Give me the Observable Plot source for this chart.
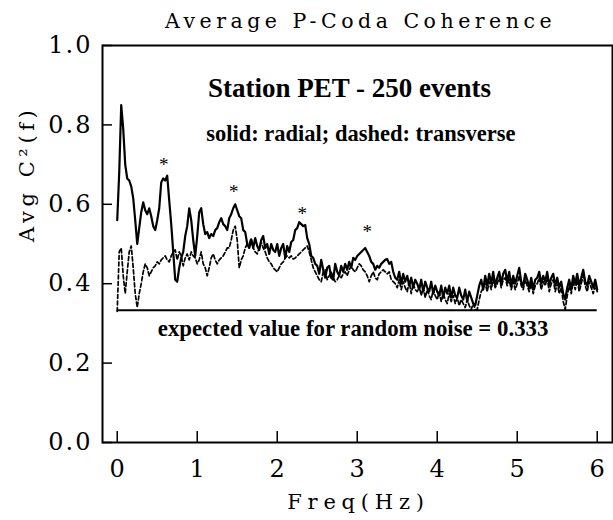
<!DOCTYPE html>
<html><head><meta charset="utf-8">
<script src="https://cdn.jsdelivr.net/npm/d3@7"></script>
<script src="https://cdn.jsdelivr.net/npm/@observablehq/plot@0.6"></script>
<style>
body{margin:0;background:#fff;} svg{display:block;}
</style>
</head><body><div id="chart"></div>
<script>
// Radial (solid) average coherence, sampled every 0.025 Hz from 0 to 6 Hz
const radial = [
  0.56, 0.68, 0.85, 0.79, 0.70, 0.665, 0.66, 0.645, 0.615, 0.56,
  0.50, 0.54, 0.58, 0.605, 0.585, 0.575, 0.59, 0.57, 0.545, 0.535,
  0.56, 0.59, 0.655, 0.665, 0.66, 0.672, 0.61, 0.55, 0.48, 0.41,
  0.405, 0.44, 0.465, 0.48, 0.52, 0.545, 0.59, 0.56, 0.51, 0.47,
  0.52, 0.58, 0.59, 0.55, 0.525, 0.53, 0.515, 0.525, 0.52, 0.535,
  0.54, 0.555, 0.565, 0.55, 0.545, 0.535, 0.565, 0.575, 0.59, 0.60,
  0.585, 0.57, 0.565, 0.535, 0.53, 0.50, 0.49, 0.51, 0.49, 0.515,
  0.495, 0.485, 0.51, 0.52, 0.49, 0.50, 0.475, 0.50, 0.485, 0.48,
  0.50, 0.47, 0.49, 0.50, 0.465, 0.495, 0.48, 0.505, 0.51, 0.535,
  0.54, 0.555, 0.55, 0.545, 0.548, 0.515, 0.50, 0.47, 0.465, 0.45,
  0.445, 0.425, 0.46, 0.435, 0.415, 0.44, 0.445, 0.415, 0.41, 0.45,
  0.43, 0.42, 0.445, 0.43, 0.45, 0.435, 0.455, 0.44, 0.465, 0.46,
  0.47, 0.475, 0.48, 0.485, 0.49, 0.48, 0.47, 0.455, 0.45, 0.435,
  0.445, 0.44, 0.45, 0.455, 0.46, 0.462, 0.45, 0.455, 0.43, 0.415,
  0.41, 0.43, 0.40, 0.425, 0.405, 0.42, 0.395, 0.415, 0.39, 0.41,
  0.40, 0.385, 0.41, 0.38, 0.405, 0.39, 0.38, 0.405, 0.375, 0.395,
  0.38, 0.37, 0.395, 0.365, 0.39, 0.375, 0.395, 0.365, 0.39, 0.37,
  0.365, 0.39, 0.37, 0.36, 0.385, 0.355, 0.38, 0.365, 0.35, 0.345,
  0.37, 0.395, 0.41, 0.385, 0.42, 0.395, 0.425, 0.40, 0.43, 0.395,
  0.415, 0.43, 0.40, 0.425, 0.435, 0.405, 0.43, 0.395, 0.42, 0.40,
  0.42, 0.44, 0.405, 0.395, 0.425, 0.41, 0.39, 0.415, 0.385, 0.41,
  0.415, 0.43, 0.40, 0.42, 0.405, 0.43, 0.395, 0.415, 0.425, 0.395,
  0.415, 0.39, 0.405, 0.375, 0.36, 0.39, 0.41, 0.385, 0.42, 0.40,
  0.425, 0.395, 0.415, 0.435, 0.405, 0.395, 0.42, 0.405, 0.39, 0.41,
  0.385
];
// Transverse (dashed)
const transverse = [
  0.33, 0.48, 0.49, 0.42, 0.375, 0.43, 0.48, 0.495, 0.44, 0.375,
  0.34, 0.375, 0.40, 0.43, 0.45, 0.44, 0.42, 0.43, 0.44, 0.445,
  0.455, 0.45, 0.46, 0.465, 0.47, 0.46, 0.455, 0.47, 0.48, 0.485,
  0.46, 0.48, 0.47, 0.445, 0.465, 0.475, 0.46, 0.48, 0.47, 0.465,
  0.45, 0.46, 0.48, 0.45, 0.44, 0.42, 0.44, 0.465, 0.475, 0.46,
  0.45, 0.46, 0.465, 0.47, 0.48, 0.49, 0.49, 0.51, 0.535, 0.545,
  0.51, 0.44, 0.46, 0.47, 0.49, 0.50, 0.50, 0.515, 0.49, 0.48,
  0.475, 0.49, 0.505, 0.49, 0.48, 0.465, 0.455, 0.45, 0.44, 0.435,
  0.43, 0.44, 0.45, 0.455, 0.465, 0.47, 0.465, 0.47, 0.462, 0.465,
  0.47, 0.475, 0.48, 0.485, 0.49, 0.495, 0.48, 0.46, 0.44, 0.43,
  0.42, 0.41, 0.405, 0.43, 0.435, 0.41, 0.42, 0.43, 0.415, 0.405,
  0.41, 0.42, 0.415, 0.425, 0.43, 0.42, 0.435, 0.445, 0.435, 0.43,
  0.44, 0.45, 0.445, 0.435, 0.43, 0.42, 0.405, 0.42, 0.43, 0.415,
  0.41, 0.425, 0.43, 0.435, 0.43, 0.425, 0.43, 0.41, 0.405, 0.40,
  0.39, 0.41, 0.385, 0.405, 0.39, 0.38, 0.405, 0.375, 0.40, 0.385,
  0.38, 0.395, 0.37, 0.39, 0.365, 0.385, 0.37, 0.36, 0.385, 0.37,
  0.36, 0.38, 0.355, 0.375, 0.36, 0.35, 0.375, 0.355, 0.37, 0.35,
  0.365, 0.345, 0.36, 0.35, 0.34, 0.36, 0.345, 0.335, 0.35, 0.335,
  0.335, 0.36, 0.38, 0.39, 0.40, 0.38, 0.405, 0.385, 0.41, 0.39,
  0.40, 0.415, 0.39, 0.41, 0.415, 0.395, 0.41, 0.385, 0.405, 0.385,
  0.40, 0.42, 0.395, 0.385, 0.41, 0.395, 0.38, 0.40, 0.375, 0.395,
  0.40, 0.415, 0.385, 0.405, 0.395, 0.415, 0.38, 0.40, 0.41, 0.38,
  0.40, 0.375, 0.39, 0.355, 0.335, 0.37, 0.395, 0.375, 0.405, 0.385,
  0.41, 0.38, 0.40, 0.42, 0.395, 0.38, 0.405, 0.39, 0.375, 0.395,
  0.38
];
const freqStep = 0.025;
const freq = radial.map((_, i) => +(i * freqStep).toFixed(3));
const xTicks = [0, 1, 2, 3, 4, 5, 6];
const yTicks = [0, 0.2, 0.4, 0.6, 0.8, 1.0];
const noiseLevel = 0.333;
const peakFreq = [0.583, 1.458, 2.3125, 3.125];
const peakLevel = [0.706, 0.639, 0.584, 0.538];

const rows = freq.map((f, i) => ({f, radial: radial[i], transverse: transverse[i]}));
const peaks = peakFreq.map((f, i) => ({f, v: peakLevel[i]}));
const serif = "DejaVu Serif";
const times = "Liberation Serif";

const chart = Plot.plot({
  width: 613, height: 520,
  marginLeft: 102, marginRight: 1, marginTop: 45, marginBottom: 78,
  style: {background: "#fff", color: "#000"},
  x: {domain: [-0.184, 6.191]},
  y: {domain: [0, 1]},
  marks: [
    Plot.ruleY([noiseLevel], {x1: 0, x2: 6, stroke: "#000", strokeWidth: 2}),
    Plot.line(rows, {x: "f", y: "transverse", stroke: "#000", strokeWidth: 1.7, strokeDasharray: "4,2.5"}),
    Plot.line(rows, {x: "f", y: "radial", stroke: "#000", strokeWidth: 2.2}),
    Plot.text(peaks, {x: "f", y: "v", text: () => "*", fontFamily: times, fontSize: 19, dy: 3, fill: "#000"}),
    Plot.text(["Station PET - 250 events"], {x: 2.904, y: 0.871, lineAnchor: "bottom", fontFamily: times, fontWeight: "bold", fontSize: 27, fill: "#000"}),
    Plot.text(["solid: radial; dashed: transverse"], {x: 3.045, y: 0.760, lineAnchor: "bottom", fontFamily: times, fontWeight: "bold", fontSize: 22.5, fill: "#000"}),
    Plot.text(["expected value for random noise = 0.333"], {x: 2.948, y: 0.269, lineAnchor: "bottom", fontFamily: times, fontWeight: "bold", fontSize: 22.8, fill: "#000"}),
    Plot.axisY(yTicks, {tickSize: -10, tickPadding: 20, tickFormat: d3.format(".1f"), fontSize: 24, fontFamily: serif, label: null, strokeWidth: 1.5}),
    Plot.axisX(xTicks, {tickSize: -11, tickPadding: 28.7, tickFormat: d => String(d), fontSize: 24, fontFamily: serif, label: null, strokeWidth: 1.5}),
    Plot.text(["Average P-Coda Coherence"], {frameAnchor: "top", dy: -18, dx: 3, lineAnchor: "bottom", fontFamily: serif, fontSize: 20.5, fill: "#000"}),
    Plot.text(["Freq(Hz)"], {frameAnchor: "bottom", dy: 66, dx: 1, lineAnchor: "bottom", fontFamily: serif, fontSize: 21, fill: "#000"}),
    Plot.text(["Avg C\u00b2(f)"], {frameAnchor: "left", dx: -75, dy: -2, rotate: -90, lineAnchor: "middle", fontFamily: serif, fontSize: 21, fill: "#000"}),
    Plot.frame({stroke: "#000", strokeWidth: 2})
  ]
});
document.getElementById("chart").appendChild(chart);

// letter spacing for the wide typewriter-like labels
const sel = d3.select(chart);
sel.selectAll('g[aria-label="y-axis tick label"] text').style("letter-spacing", "2px");
sel.selectAll("text").each(function() {
  const t = this.textContent;
  if (t === "Average P-Coda Coherence") this.style.letterSpacing = "4.5px";
  if (t === "Freq(Hz)") this.style.letterSpacing = "5.8px";
  if (t === "Avg C\u00b2(f)") this.style.letterSpacing = "4.6px";
});
</script>
</body></html>
